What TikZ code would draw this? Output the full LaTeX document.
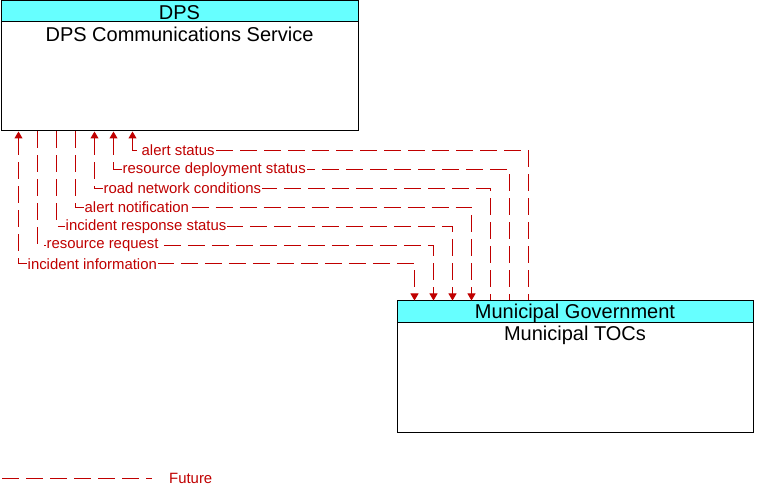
\documentclass[tikz,border=0pt]{standalone}
\usepackage{fontspec}
\setmainfont{Liberation Sans}
\usetikzlibrary{calc, positioning, arrows.meta}
\definecolor{flowred}{RGB}{192,0,0}
\definecolor{hdrcyan}{RGB}{102,255,255}
\tikzset{
  % System boxes
  sysbox/.style={rectangle, draw=black, line width=1pt, fill=white, inner sep=0pt},
  hdrbox/.style={rectangle, draw=black, line width=1pt, fill=hdrcyan, inner sep=0pt},
  hdrtext/.style={font=\fontsize{20}{23}\selectfont, inner sep=0pt},
  % Flow lines
  flow/.style={draw=flowred, line width=1pt, dash pattern=on 17pt off 7pt},
  uptip/.style={{Triangle[length=7pt,width=8pt]}-},
  dntip/.style={-{Triangle[length=7pt,width=8pt]}},
  bothtip/.style={{Triangle[length=7pt,width=8pt]}-{Triangle[length=7pt,width=8pt]}},
  flowlabel/.style={font=\fontsize{14.9}{17}\selectfont, text=flowred, fill=white, inner sep=1pt, anchor=west},
}

\begin{document}
\begin{tikzpicture}[x=1pt, y=-1pt]
  \useasboundingbox (0,0) rectangle (764,497);

  % --- DPS ---
  \node[sysbox, minimum width=357pt, minimum height=130pt] (dps) at (179.5,66) {};
  \node[hdrbox, minimum width=357pt, minimum height=21pt] (dpshdr) at (179.5,11.5) {};
  \node[hdrtext] (dpsname) at (179.5,12.5) {DPS};
  \node[hdrtext] (dpssub) at (179.5,34.5) {DPS Communications Service};

  % --- MUNICIPAL ---
  \node[sysbox, minimum width=356pt, minimum height=131pt] (mun) at (575,366.5) {};
  \node[hdrbox, minimum width=356pt, minimum height=22pt] (munhdr) at (575,312) {};
  \node[hdrtext] (munname) at (575,313.5) {Municipal Government};
  \node[hdrtext] (munsub) at (575,335.5) {Municipal TOCs};

  % --- Flows ---
  \foreach \i/\txt/\tip in {0/incident information/bothtip,
                            1/resource request/dntip,
                            2/incident response status/dntip,
                            3/alert notification/dntip,
                            4/road network conditions/uptip,
                            5/resource deployment status/uptip,
                            6/alert status/uptip}{
    \pgfmathsetmacro\yy{264-18.9*\i}
    \coordinate (s\i) at ($(dps.south west)+(18+19*\i,0)$);
    \coordinate (e\i) at ($(mun.north west)+(18+19*\i,0)$);
    \coordinate (m\i) at (0,\yy);
    \draw[flow, \tip] (s\i) -- (s\i |- m\i) -- (e\i |- m\i) -- (e\i);
    \node[flowlabel] (lbl\i) at ($(s\i |- m\i)+(8,0)$) {\txt};
  }

  % --- Legend ---
  \coordinate (lgA) at (2,478);
  \coordinate (lgB) at (152,478);
  \draw[flow] (lgA) -- (lgB);
  \node[flowlabel, fill=none] (lgtxt) at (168,478) {Future};

\end{tikzpicture}
\end{document}
